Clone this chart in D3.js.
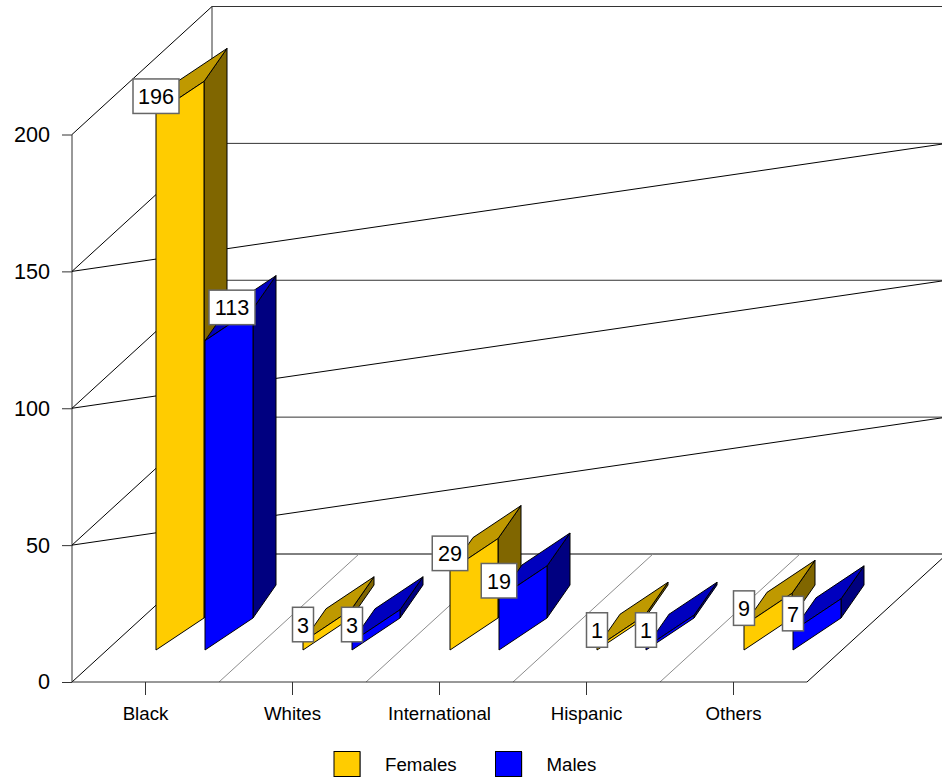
<!DOCTYPE html>
<html><head><meta charset="utf-8">
<script src="https://cdn.jsdelivr.net/npm/d3@7/dist/d3.min.js"></script>
<style>html,body{margin:0;padding:0;background:#fff;overflow:hidden}svg{display:block}text{font-family:"Liberation Sans",Arial,sans-serif;fill:#000}</style>
</head><body><svg id="c" width="942" height="778"></svg>
<script>
const categories = ["Black","Whites","International","Hispanic","Others"];
const females = [196,3,29,1,9];
const males = [113,3,19,1,7];
const yTicks = [0,50,100,150,200];
const seriesNames = ["Females","Males"];
const seriesFill = ["#FFCC00","#0000FF"];
const seriesTop = ["#BF9900","#0000BF"];
const seriesSide = ["#806600","#000080"];

const svg = d3.select("#c");
const W = 735, H0 = 682, depth = [140,-128];
const x = d3.scaleBand().domain(categories).range([72,72+W]);
const y = d3.scaleLinear().domain([0,200]).range([H0,134.5]);
const ink = "#000", muted = "#8c8c8c";
const line = (a,b,c,d,col=ink,w=1)=>svg.append("line").attr("x1",a).attr("y1",b).attr("x2",c).attr("y2",d).attr("stroke",col).attr("stroke-width",w);

// Walls and floor
const backX = 72+depth[0], rightX = 72+W+depth[0];
line(backX,y(200)+depth[1],backX,H0+depth[1],"#333");
line(72,y(200),72,H0,"#333");
yTicks.forEach(t=>{
  const yy=y(t), by=yy+depth[1];
  line(72,yy,backX,by);
  if(t>0) line(backX,by,rightX,by,"#333");
  else line(backX,by,rightX,by);
  if(t>0 && t<200) line(72,yy,rightX,by);
});
categories.slice(1).forEach(c=>{
  const fx=x(c);
  line(fx,H0,fx+depth[0],H0+depth[1],muted);
});
line(72,H0,72+W,H0,"#333");
line(72+W,H0,rightX,H0+depth[1]);

// Value axis
const axisL = d3.axisLeft(y).tickValues(yTicks).tickSize(10).tickPadding(12).tickFormat(d3.format("d"));
const gL = svg.append("g").attr("transform","translate(72,0)").call(axisL);
gL.select(".domain").remove();
gL.selectAll("line").attr("stroke","#333");
gL.selectAll("text").attr("font-size",21.6).attr("font-family",'"Liberation Sans",Arial,sans-serif').attr("fill","#000");

// Category axis
const axisB = d3.axisBottom(x).tickSize(13).tickPadding(12);
const gB = svg.append("g").attr("transform",`translate(0,${H0})`).call(axisB);
gB.select(".domain").remove();
gB.selectAll("line").attr("stroke","#333");
gB.selectAll("text").attr("font-size",18.7).attr("font-family",'"Liberation Sans",Arial,sans-serif').attr("fill","#000");

// Bars (sheared front face, side and top)
const barW = 48, barGap = 49, barInset = 84;
const shearY = -32, sideX = 23, sideY = -33, baseY = 650;
const labels = [];
categories.forEach((c,i)=>{
  [females,males].forEach((s,k)=>{
    const v=s[i], x0=x(c)+barInset+k*barGap, x1=x0+barW, h=H0-y(v);
    const bl=[x0,baseY], br=[x1,baseY+shearY], tr=[x1,baseY+shearY-h], tl=[x0,baseY-h];
    const off=p=>[p[0]+sideX,p[1]+sideY];
    const poly=(pts,f)=>svg.append("polygon").attr("points",pts.map(p=>p.join(",")).join(" ")).attr("fill",f).attr("stroke","#000").attr("stroke-width",1).attr("stroke-linejoin","round");
    poly([br,off(br),off(tr),tr],seriesSide[k]);
    poly([tl,tr,off(tr),off(tl)],seriesTop[k]);
    poly([bl,br,tr,tl],seriesFill[k]);
    labels.push({v,cx:x0,bottom:baseY-h});
  });
});
// Data labels
const labelW = {1:21,2:35.5,3:46}, labelH = 34.5;
labels.forEach(l=>{
  let cx=l.cx, bottom=l.bottom;
  if(l.v===113){cx+=27; bottom-=16;}
  const w=labelW[String(l.v).length];
  svg.append("rect").attr("x",cx-w/2).attr("y",bottom-labelH).attr("width",w).attr("height",labelH).attr("fill","#fff").attr("stroke","#666").attr("stroke-width",1.5);
  svg.append("text").attr("x",cx).attr("y",bottom-labelH/2+8).attr("text-anchor","middle").attr("font-size",21.6).text(l.v);
});
// Legend
const legendX = d3.scalePoint().domain(seriesNames).range([334,495.5]);
seriesNames.forEach((n,k)=>{
  const lx=legendX(n);
  svg.append("rect").attr("x",lx+1).attr("y",752).attr("width",26).attr("height",25).attr("fill","#aaa");
  svg.append("rect").attr("x",lx).attr("y",751.5).attr("width",26).attr("height",25).attr("fill",seriesFill[k]).attr("stroke","#000");
  svg.append("text").attr("x",lx+51).attr("y",770.5).attr("font-size",18.7).text(n);
});
</script></body></html>
